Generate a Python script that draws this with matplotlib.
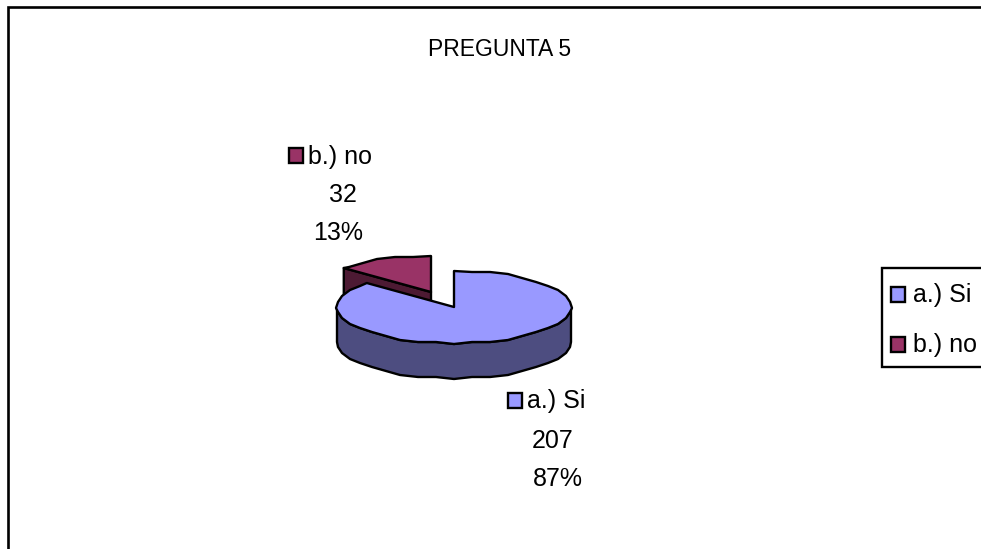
import numpy as np
import matplotlib
matplotlib.use('Agg')
import matplotlib.pyplot as plt
from matplotlib.patches import Polygon, Rectangle

title = 'PREGUNTA 5'
labels = ['a.) Si', 'b.) no']
values = [207, 32]
percents = ['87%', '13%']
colors = ['#9999FF', '#993366']
side_colors = ['#4D4D80', '#4D1A33']

plt.rcParams['font.family'] = ['Liberation Sans', 'DejaVu Sans']

fig = plt.figure(figsize=(9.81, 5.49), dpi=100)
ax = fig.add_axes([0, 0, 1, 1])
ax.set_xlim(0, 981)
ax.set_ylim(549, 0)
ax.axis('off')

# outer frame runs off the right and bottom edge
ax.plot([8, 8, 981], [549, 7, 7], color='black', lw=1.9, solid_joinstyle='miter')

cx, cy = 454, 307
rx, ry = 117, 36
depth = 35
dx, dy = -23, -15  # exploded slice offset
step = 9


def rim(a0, a1, x0=cx, y0=cy):
    # angles from 12 o'clock going counter clockwise, sampled on a coarse
    # grid and snapped to 2 px so the edge is stepped like the original
    grid = np.arange(0, 361, step)
    mid = grid[(grid > a0) & (grid < a1)]
    a = np.radians(mid)
    pts = np.column_stack([cx - rx * np.sin(a), cy - ry * np.cos(a)])
    pts = np.round(pts / 2) * 2 + [x0 - cx, y0 - cy]
    ends = np.radians([a0, a1])
    e = np.column_stack([x0 - rx * np.sin(ends), y0 - ry * np.cos(ends)])
    return np.vstack([e[:1], pts, e[1:]])


def poly(pts, fc, z):
    ax.add_patch(Polygon(pts, closed=True, fc=fc, ec='black', lw=1.7, zorder=z, joinstyle='round'))


split = 360 * values[1] / sum(values)

# red slice
apex = np.array([cx + dx, cy + dy])
red_rim = rim(0, split, apex[0], apex[1])
outer = red_rim[-1]
poly([apex, outer, outer + [0, depth], apex + [0, depth]], side_colors[1], 2)
poly(np.vstack([[apex], red_rim]), colors[1], 3)

# blue slice
front = rim(90, 270)
poly(np.vstack([front, front[::-1] + [0, depth]]), side_colors[0], 4)
poly(np.vstack([[[cx, cy]], rim(split, 360)]), colors[0], 5)

fs = 18
ax.text(500, 49, title, ha='center', va='center', fontsize=16.5, zorder=6)


def key(x, y, c):
    ax.add_patch(Rectangle((x, y), 14, 15, fc=c, ec='black', lw=1.7, zorder=6))


# data labels
key(508, 393, colors[0])
ax.text(527, 401, labels[0], va='center', fontsize=fs)
ax.text(553, 441, str(values[0]), ha='center', va='center', fontsize=fs)
ax.text(558, 479, percents[0], ha='center', va='center', fontsize=fs)

key(289, 148, colors[1])
ax.text(308, 157, labels[1], va='center', fontsize=fs)
ax.text(343, 195, str(values[1]), ha='center', va='center', fontsize=fs)
ax.text(338, 233, percents[1], ha='center', va='center', fontsize=fs)

# legend box, cut by the right edge
ax.add_patch(Rectangle((882, 268), 110, 99, fc='white', ec='black', lw=1.7, zorder=6))
for i, y in enumerate([287, 337]):
    key(891, y, colors[i])
    ax.text(913, y + 8, labels[i], va='center', fontsize=fs, zorder=7)

fig.savefig('out.png', dpi=100)
